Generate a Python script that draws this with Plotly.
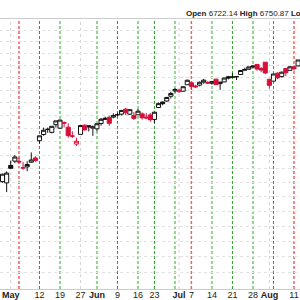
import plotly.graph_objects as go

# ---- data (S&P 500 daily) ----
dates = ["2025-04-25", "2025-04-28", "2025-04-29", "2025-04-30",
         "2025-05-01", "2025-05-02", "2025-05-05", "2025-05-06", "2025-05-07", "2025-05-08", "2025-05-09",
         "2025-05-12", "2025-05-13", "2025-05-14", "2025-05-15", "2025-05-16",
         "2025-05-19", "2025-05-20", "2025-05-21", "2025-05-22", "2025-05-23",
         "2025-05-27", "2025-05-28", "2025-05-29", "2025-05-30",
         "2025-06-02", "2025-06-03", "2025-06-04", "2025-06-05", "2025-06-06",
         "2025-06-09", "2025-06-10", "2025-06-11", "2025-06-12", "2025-06-13",
         "2025-06-16", "2025-06-17", "2025-06-18", "2025-06-20",
         "2025-06-23", "2025-06-24", "2025-06-25", "2025-06-26", "2025-06-27",
         "2025-06-30", "2025-07-01", "2025-07-02", "2025-07-03",
         "2025-07-07", "2025-07-08", "2025-07-09", "2025-07-10", "2025-07-11",
         "2025-07-14", "2025-07-15", "2025-07-16", "2025-07-17", "2025-07-18",
         "2025-07-21", "2025-07-22", "2025-07-23", "2025-07-24", "2025-07-25",
         "2025-07-28", "2025-07-29", "2025-07-30", "2025-07-31", "2025-08-01",
         "2025-08-04", "2025-08-05", "2025-08-06", "2025-08-07", "2025-08-08",
         "2025-08-11", "2025-08-12"]
opens = [5489, 5529, 5508, 5499,
         5625, 5656, 5655, 5606, 5614, 5648, 5679,
         5807, 5854, 5893, 5870, 5929,
         5902, 5945, 5910, 5842, 5782,
         5855, 5925, 5921, 5903,
         5897, 5938, 5978, 5985, 5987,
         6005, 6010, 6049, 6010, 6000,
         6005, 6012, 5987, 6004,
         5969, 6062, 6105, 6113, 6151,
         6194, 6187, 6191, 6243,
         6259, 6233, 6240, 6264, 6255,
         6255, 6288, 6252, 6266, 6308,
         6304, 6307, 6326, 6368, 6370,
         6397, 6409, 6375, 6428, 6287,
         6272, 6337, 6309, 6375, 6360,
         6389, 6397]
highs = [5528, 5554, 5565, 5581,
         5659, 5700, 5683, 5649, 5655, 5720, 5692,
         5845, 5906, 5906, 5917, 5958,
         5968, 5953, 5938, 5878, 5829,
         5922, 5930, 5925, 5922,
         5936, 5981, 5990, 5999, 6016,
         6021, 6043, 6059, 6045, 6026,
         6051, 6024, 6019, 6018,
         6028, 6101, 6108, 6146, 6187,
         6215, 6210, 6228, 6285,
         6263, 6242, 6269, 6290, 6272,
         6273, 6291, 6266, 6299, 6315,
         6336, 6310, 6360, 6382, 6389,
         6402, 6409, 6389, 6428, 6288,
         6330, 6344, 6350, 6379, 6395,
         6401, 6446]
lows = [5455, 5468, 5500, 5434,
        5597, 5641, 5640, 5593, 5583, 5644, 5651,
        5786, 5844, 5867, 5863, 5907,
        5896, 5908, 5830, 5828, 5767,
        5855, 5884, 5877, 5844,
        5878, 5922, 5966, 5921, 5978,
        5994, 6000, 6002, 6003, 5964,
        6005, 5968, 5971, 5952,
        5943, 6057, 6080, 6106, 6133,
        6179, 6178, 6186, 6241,
        6201, 6217, 6230, 6251, 6250,
        6244, 6243, 6202, 6264, 6286,
        6303, 6281, 6322, 6358, 6363,
        6380, 6358, 6345, 6328, 6212,
        6272, 6288, 6301, 6313, 6360,
        6359, 6392]
closes = [5525, 5528, 5561, 5569,
          5604, 5686, 5650, 5607, 5631, 5664, 5660,
          5844, 5886, 5893, 5916, 5958,
          5964, 5941, 5845, 5842, 5803,
          5922, 5889, 5912, 5912,
          5936, 5970, 5971, 5939, 6000,
          6006, 6039, 6022, 6045, 5977,
          6033, 5982, 5981, 5967,
          6025, 6092, 6092, 6141, 6173,
          6205, 6198, 6227, 6279,
          6230, 6226, 6263, 6280, 6260,
          6269, 6244, 6264, 6297, 6297,
          6306, 6309, 6359, 6363, 6389,
          6390, 6371, 6363, 6339, 6238,
          6330, 6299, 6345, 6340, 6389,
          6374, 6446]

# weekly marker lines
red_weeks = ["2025-05-05", "2025-07-07", "2025-08-11"]
dark_green_weeks = ["2025-05-12", "2025-06-09", "2025-06-23", "2025-07-21", "2025-08-04"]
light_green_weeks = ["2025-05-19", "2025-06-02", "2025-06-16", "2025-06-30", "2025-07-14", "2025-07-28"]
gray_lines = ["2025-05-01", "2025-05-27", "2025-07-01", "2025-08-01"]

tick_dates = ["2025-04-28", "2025-05-01", "2025-05-12", "2025-05-19", "2025-05-27", "2025-06-02",
              "2025-06-09", "2025-06-16", "2025-06-23", "2025-07-01", "2025-07-07", "2025-07-14",
              "2025-07-21", "2025-07-28", "2025-08-01", "2025-08-11"]
tick_texts = ["28", "<b>May</b>", "12", "19", "27", "<b>Jun</b>", "9", "16", "23", "<b>Jul</b>",
              "7", "14", "21", "28", "<b>Aug</b>", "11"]

grid_levels = list(range(4800, 6800, 100))

header_text = "<b>Open</b> 6722.14 <b>High</b> 6750.87 <b>Low</b> 6708.20"

# ---- split candles by style ----
groups = {"black": ([], [], [], [], []), "red": ([], [], [], [], [])}
for i, d in enumerate(dates):
    prev = closes[i - 1] if i > 0 else closes[i]
    key = "red" if closes[i] < prev else "black"
    g = groups[key]
    g[0].append(d); g[1].append(opens[i]); g[2].append(highs[i]); g[3].append(lows[i]); g[4].append(closes[i])

RED = "#d4103a"
fig = go.Figure()
for key, col in (("black", "#111111"), ("red", RED)):
    x, o, h, l, c = groups[key]
    fig.add_trace(go.Candlestick(
        x=x, open=o, high=h, low=l, close=c,
        increasing=dict(fillcolor="white", line=dict(color=col, width=1)),
        decreasing=dict(fillcolor=col, line=dict(color=col, width=1)),
        whiskerwidth=0, showlegend=False, hoverinfo="skip"))

shapes = []
def vline(d, color, width, dash):
    shapes.append(dict(type="line", xref="x", yref="paper", x0=d, x1=d, y0=0, y1=1,
                       line=dict(color=color, width=width, dash=dash), layer="below"))
for d in gray_lines:
    vline(d, "#d2d2d2", 1, "dot")
for d in light_green_weeks:
    vline(d, "#93d493", 2, "3px,2px")
for d in dark_green_weeks:
    vline(d, "#2a9e2a", 1, "3px,2px")
for d in red_weeks:
    vline(d, "#f06060", 1.5, "3px,2px")

i0 = dates.index("2025-05-01")
fig.update_layout(
    width=300, height=300,
    margin=dict(l=0, r=0, t=19, b=11, autoexpand=False),
    paper_bgcolor="white", plot_bgcolor="white",
    shapes=shapes, boxgap=0.0, boxgroupgap=0.0,
    font=dict(family="Liberation Sans, Arial, sans-serif", size=9, color="#222"),
    annotations=[dict(text=header_text, xref="paper", yref="paper", x=184 / 300, y=1.0,
                      xanchor="left", yanchor="bottom", yshift=-1, showarrow=False,
                      font=dict(size=8, color="#222"))],
)
fig.update_xaxes(type="category", categoryorder="array", categoryarray=dates,
                 range=[i0 - 2.62, i0 + 70.46], rangeslider=dict(visible=False),
                 showgrid=False, tickmode="array", tickvals=tick_dates, ticktext=tick_texts,
                 ticks="", ticklen=0, ticklabelstandoff=-3, tickfont=dict(size=9, color="#222"),
                 automargin=False,
                 showline=True, linecolor="#cccccc", linewidth=1, mirror=True, zeroline=False)
fig.update_yaxes(type="log", range=[3.6807, 3.8323], tickmode="array", tickvals=grid_levels,
                 showticklabels=False, showgrid=True, gridcolor="#e2e2e2", griddash="dot",
                 gridwidth=1, zeroline=False, showline=False, automargin=False)

fig.write_html("out.html")
